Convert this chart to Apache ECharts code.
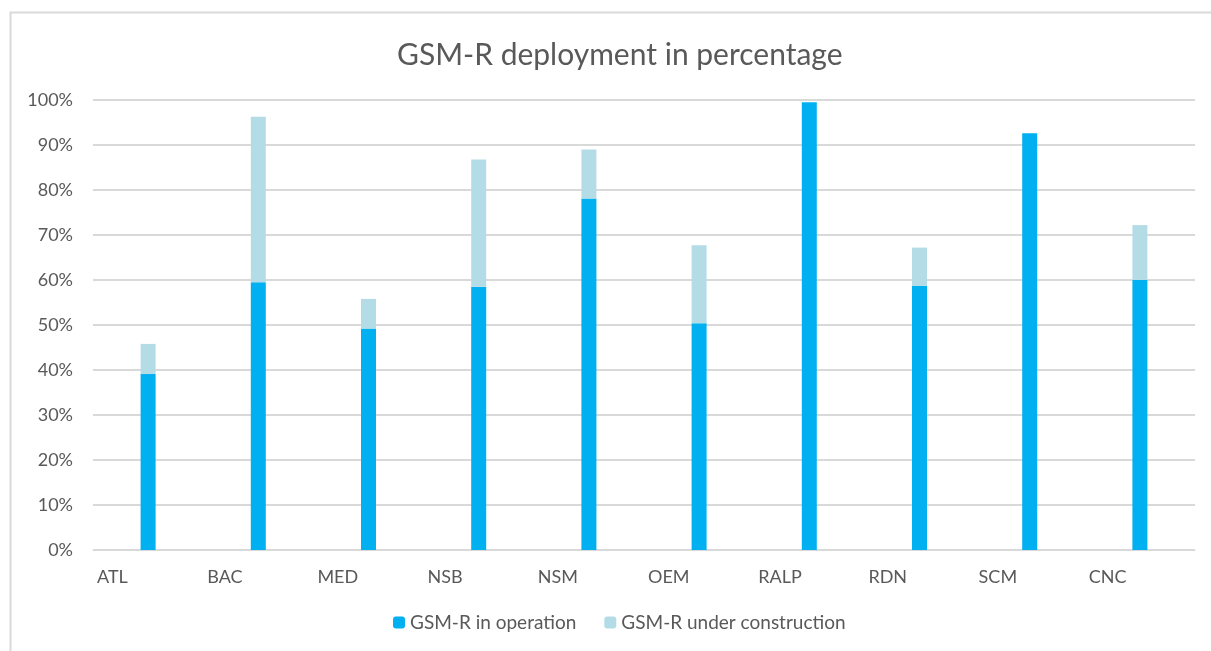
<!DOCTYPE html>
<html>
<head>
<meta charset="utf-8">
<script src="https://cdn.jsdelivr.net/npm/echarts@6/dist/echarts.min.js"></script>
<style>
html,body{margin:0;padding:0;background:#fff;}
#chart{width:1211px;height:651px;}
</style>
</head>
<body>
<div id="chart"></div>
<script>
const categories = ['ATL','BAC','MED','NSB','NSM','OEM','RALP','RDN','SCM','CNC'];
const inOperation = [39.1, 59.5, 49.2, 58.5, 78.1, 50.4, 99.5, 58.7, 92.6, 60.0];
const underConstruction = [6.7, 36.8, 6.6, 28.3, 10.9, 17.3, 0, 8.5, 0, 12.2];
const yTicks = [0,10,20,30,40,50,60,70,80,90,100];
const seriesNames = ['GSM-R in operation','GSM-R under construction'];
const titleText = 'GSM-R deployment in percentage';

const FONT = 'Lato';
const TXT = '#595959';
const chart = echarts.init(document.getElementById('chart'), null, {renderer:'canvas'});
chart.setOption({
  backgroundColor:'#fff',
  animation:false,
  textStyle:{fontFamily:FONT},
  title:{text:titleText,left:392,top:35,textStyle:{fontFamily:FONT,fontSize:30,fontWeight:'normal',color:TXT}},
  legend:{bottom:14,left:388,itemWidth:12,itemHeight:12,itemGap:28,
    textStyle:{fontFamily:FONT,fontSize:19,color:TXT},data:seriesNames},
  grid:{left:93,right:16,top:100,bottom:101,containLabel:false},
  xAxis:[{
    type:'category',data:categories,
    axisLine:{lineStyle:{color:'#d9d9d9',width:1}},
    axisTick:{show:false},axisLabel:{show:false}
  },{
    type:'category',position:'bottom',boundaryGap:false,
    data:categories.concat(['']),
    axisLine:{show:false},axisTick:{show:false},splitLine:{show:false},
    axisLabel:{show:true,align:'left',padding:[0,0,0,4],margin:18,fontSize:18,color:TXT,fontFamily:FONT}
  }],
  yAxis:{type:'value',min:0,max:100,interval:10,
    axisLine:{show:false},axisTick:{show:false},
    axisLabel:{formatter:v=>yTicks.includes(v)?v+'%':'',fontSize:18,color:TXT,fontFamily:FONT,margin:20},
    splitLine:{lineStyle:{color:'#d9d9d9',width:2}}},
  series:[
    {name:seriesNames[0],type:'bar',stack:'t',barWidth:15,xAxisIndex:0,data:inOperation,itemStyle:{color:'#00B0F0'}},
    {name:seriesNames[1],type:'bar',stack:'t',barWidth:15,xAxisIndex:0,data:underConstruction,itemStyle:{color:'#B4DCE7'}}
  ],
  graphic:[{type:'rect',shape:{x:10.5,y:12.5,width:1300,height:700},style:{fill:null,stroke:'#d9d9d9',lineWidth:2},silent:true,z:-1}]
});
</script>
</body>
</html>
